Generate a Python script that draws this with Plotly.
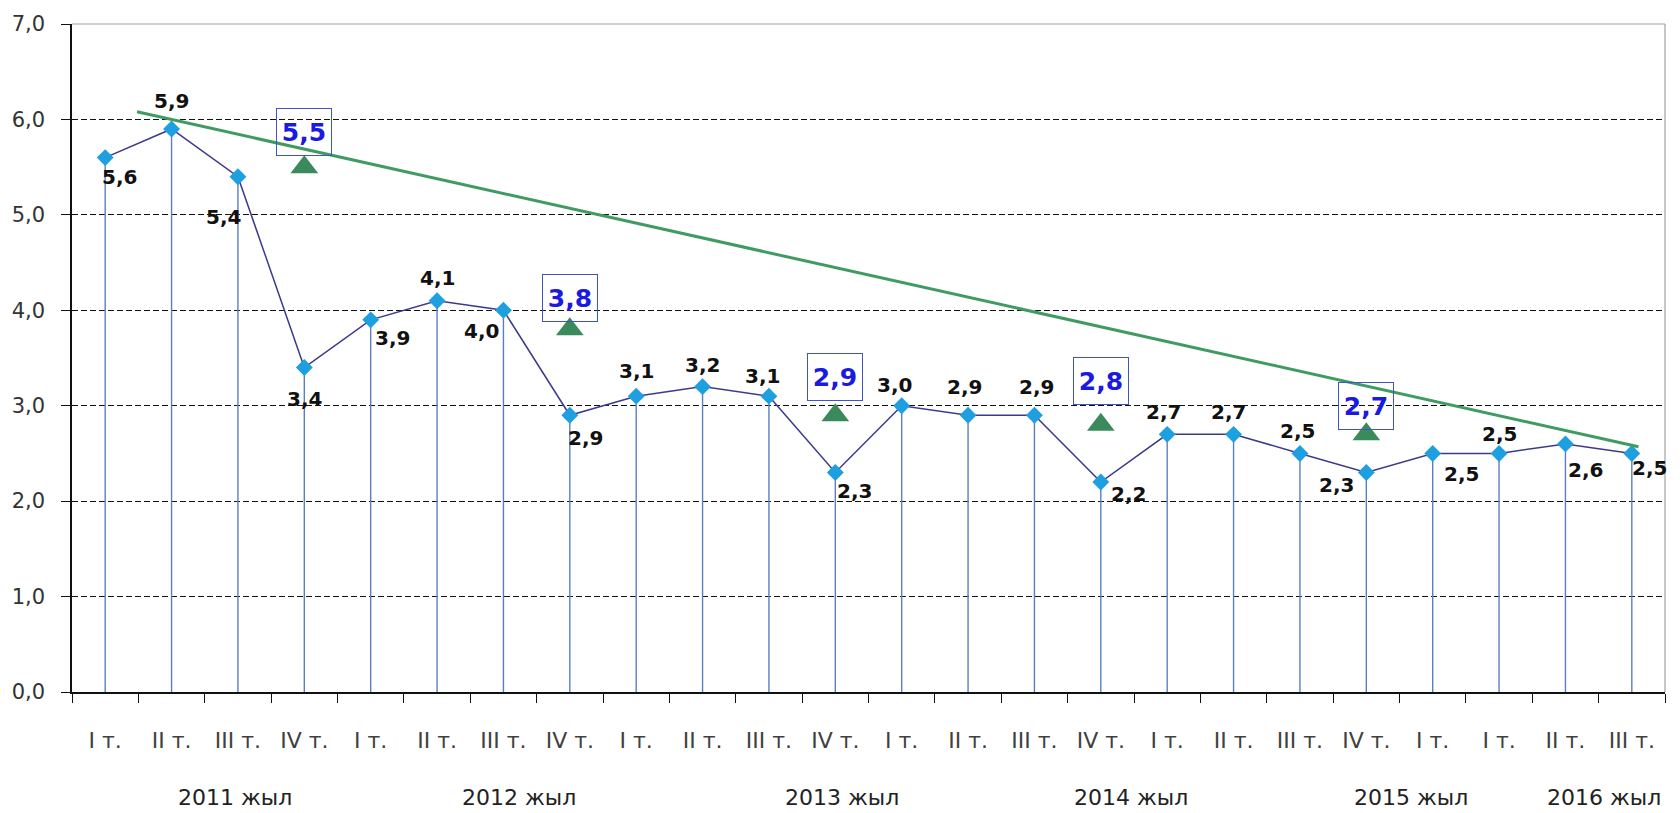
import plotly.graph_objects as go

# ---- data ----
quarter_labels = ["I т.", "II т.", "III т.", "IV т.",
                  "I т.", "II т.", "III т.", "IV т.",
                  "I т.", "II т.", "III т.", "IV т.",
                  "I т.", "II т.", "III т.", "IV т.",
                  "I т.", "II т.", "III т.", "IV т.",
                  "I т.", "I т.", "II т.", "III т."]
values = [5.6, 5.9, 5.4, 3.4, 3.9, 4.1, 4.0, 2.9, 3.1, 3.2, 3.1, 2.3,
          3.0, 2.9, 2.9, 2.2, 2.7, 2.7, 2.5, 2.3, 2.5, 2.5, 2.6, 2.5]
year_labels = ["2011 жыл", "2012 жыл", "2013 жыл", "2014 жыл", "2015 жыл", "2016 жыл"]
year_pos = [1.95, 6.23, 11.1, 15.45, 19.68, 22.58]
highlight_idx = [3, 7, 11, 15, 19]
highlight_vals = [5.5, 3.8, 2.9, 2.8, 2.7]
trend_x = [0.48, 23.1]
trend_y = [6.08, 2.57]
y_ticks = [0, 1, 2, 3, 4, 5, 6, 7]

# label offsets (px): dx right, dy down
label_offsets = [(14, 19), (0, -28), (-14, 40), (0, 31), (22, 18), (0, -23), (-22, 21),
                 (16, 23), (0, -25), (0, -22), (-6, -20), (19, 18), (-7, -21), (-4, -28),
                 (2, -28), (28, 12), (-4, -22), (-5, -22), (-2, -22), (-30, 12), (29, 21),
                 (0, -19), (20, 26), (18, 15)]
box_shifts = [35, 31, 38, 44, 28]

xs = list(range(len(values)))

def fmt(v):
    return f"{v:.1f}".replace(".", ",")

fig = go.Figure()

# drop lines
dx, dy = [], []
for x, v in zip(xs, values):
    dx += [x, x, None]
    dy += [0, v, None]
fig.add_trace(go.Scatter(x=dx, y=dy, mode="lines",
                         line=dict(color="#5a7fc0", width=1.4),
                         hoverinfo="skip", showlegend=False))

# main line
fig.add_trace(go.Scatter(x=xs, y=values, mode="lines+markers",
                         line=dict(color="#3d3a8c", width=1.5),
                         marker=dict(symbol="diamond", size=13, color="#1e9fe0",
                                     line=dict(width=0)),
                         showlegend=False))

# trend line
fig.add_trace(go.Scatter(x=trend_x, y=trend_y, mode="lines",
                         line=dict(color="#3f9b61", width=3), showlegend=False))

# triangles
fig.add_trace(go.Scatter(x=highlight_idx, y=highlight_vals, mode="markers",
                         marker=dict(symbol="triangle-up", size=24, color="#3a8a5c",
                                     line=dict(width=0)),
                         showlegend=False))

ann = []
for x, v, (ox, oy) in zip(xs, values, label_offsets):
    ann.append(dict(x=x, y=v, xref="x", yref="y", text="<b>" + fmt(v) + "</b>",
                    showarrow=False, xshift=ox, yshift=-oy,
                    font=dict(family="DejaVu Sans", size=20, color="#111111"),
                    xanchor="center", yanchor="middle"))

for x, v, s in zip(highlight_idx, highlight_vals, box_shifts):
    ann.append(dict(x=x, y=v, xref="x", yref="y", text="<b>" + fmt(v) + "</b>",
                    showarrow=False, yshift=s, width=54, height=46,
                    bordercolor="#3f55c6", borderwidth=1, borderpad=0,
                    bgcolor="rgba(255,255,255,0)",
                    font=dict(family="DejaVu Sans", size=25, color="#1a1ae0"),
                    xanchor="center", yanchor="middle"))

for yl, yp in zip(year_labels, year_pos):
    ann.append(dict(x=yp, y=-0.158, xref="x", yref="paper", text=yl, showarrow=False,
                    font=dict(family="DejaVu Sans", size=22, color="#222222"),
                    xanchor="center", yanchor="middle"))

fig.update_layout(
    width=1680, height=813,
    margin=dict(l=68, r=15, t=20, b=121),
    paper_bgcolor="white", plot_bgcolor="white",
    separators=",.",
    annotations=ann,
    shapes=[
        dict(type="line", xref="paper", yref="paper", x0=0, x1=1, y0=1, y1=1,
             line=dict(color="#a0a0a0", width=1.2), layer="above"),
        dict(type="line", xref="paper", yref="paper", x0=1, x1=1, y0=0, y1=1,
             line=dict(color="#a0a0a0", width=1.2), layer="above"),
    ],
    xaxis=dict(range=[-0.5, len(values) - 0.5], tickmode="array", tickvals=xs,
               ticktext=quarter_labels, ticks="", showgrid=False, zeroline=False,
               showline=True, linecolor="#111111", linewidth=1.5,
               ticklabelstandoff=28,
               tickfont=dict(family="DejaVu Sans", size=22, color="#404040"),
               minor=dict(tickmode="array",
                          tickvals=[i - 0.5 for i in range(len(values) + 1)],
                          ticks="outside", ticklen=9, tickwidth=1.3,
                          tickcolor="#111111", showgrid=False)),
    yaxis=dict(range=[0, 7], tickmode="array", tickvals=y_ticks, tickformat=".1f",
               showgrid=True, gridcolor="#111111", gridwidth=1, griddash="6px,3px",
               zeroline=False, showline=True, linecolor="#111111", linewidth=1.5,
               ticks="outside", ticklen=9, tickcolor="#111111", tickwidth=1.3,
               ticklabelstandoff=12,
               tickfont=dict(family="DejaVu Sans", size=21, color="#333333")),
)

fig.write_html("out.html", config={"displayModeBar": False},
               post_script="document.body.style.margin='0';document.body.style.overflow='hidden';")
